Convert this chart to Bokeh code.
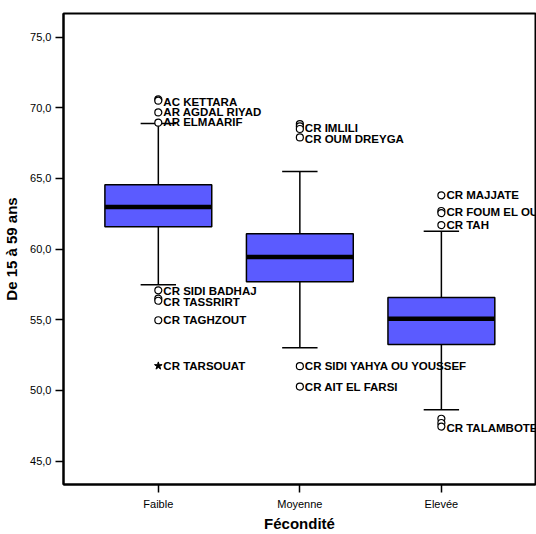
from bokeh.plotting import figure
from bokeh.models import FixedTicker, Range1d, ColumnDataSource
from bokeh.core.properties import value
from bokeh.embed import file_html
from bokeh.resources import INLINE

# Categories and box statistics
categories = ["Faible", "Moyenne", "Elevée"]
cat_pos = [1, 2, 3]
q1 = [61.58, 57.70, 53.26]
median = [62.98, 59.44, 55.07]
q3 = [64.56, 61.09, 56.58]
whisker_low = [57.48, 53.02, 48.63]
whisker_high = [68.88, 65.49, 61.26]

# Outliers (circles)
out_cat = [1, 1, 1, 1, 1, 1, 1, 1,
           2, 2, 2, 2, 2, 2,
           3, 3, 3, 3, 3, 3, 3]
out_val = [70.60, 70.50, 69.67, 68.95, 57.09, 56.50, 56.35, 54.97,
           68.85, 68.68, 68.50, 67.90, 51.72, 50.28,
           63.81, 62.70, 62.55, 61.70, 48.00, 47.70, 47.45]

# Extreme values (stars)
ext_cat = [1]
ext_val = [51.74]

# Labels
lab_cat = [1, 1, 1, 1, 1, 1, 1,
           2, 2, 2, 2,
           3, 3, 3, 3]
lab_val = [70.42, 69.67, 69.00, 57.05, 56.26, 54.97, 51.74,
           68.60, 67.80, 51.72, 50.28,
           63.81, 62.60, 61.70, 47.35]
lab_text = ["AC KETTARA", "AR AGDAL RIYAD", "AR ELMAARIF", "CR SIDI BADHAJ",
            "CR TASSRIRT", "CR TAGHZOUT", "CR TARSOUAT",
            "CR IMLILI", "CR OUM DREYGA", "CR SIDI YAHYA OU YOUSSEF", "CR AIT EL FARSI",
            "CR MAJJATE", "CR FOUM EL OUIDANE", "CR TAH", "CR TALAMBOTE"]

y_ticks = [45, 50, 55, 60, 65, 70, 75]
y_tick_labels = ["45,0", "50,0", "55,0", "60,0", "65,0", "70,0", "75,0"]

BOX_W = 0.755
CAP_W = 0.25
FONT = "Liberation Sans"

p = figure(width=536, height=534, output_backend="svg", toolbar_location=None,
           x_range=Range1d(0.33, 3.665), y_range=Range1d(43.35, 76.67),
           min_border_left=63, min_border_top=13, min_border_right=1, min_border_bottom=45)
p.xgrid.visible = False
p.ygrid.visible = False
p.outline_line_color = "black"
p.outline_line_width = 2
p.background_fill_color = "white"
p.border_fill_color = "white"

box_src = ColumnDataSource(dict(
    x=cat_pos, q1=q1, q3=q3, med=median, lo=whisker_low, hi=whisker_high,
    xl=[c - BOX_W / 2 for c in cat_pos], xr=[c + BOX_W / 2 for c in cat_pos],
    cl=[c - CAP_W / 2 for c in cat_pos], cr=[c + CAP_W / 2 for c in cat_pos],
))

# whiskers
p.segment(x0="x", y0="q3", x1="x", y1="hi", source=box_src, line_color="black", line_width=1.5)
p.segment(x0="x", y0="q1", x1="x", y1="lo", source=box_src, line_color="black", line_width=1.5)
p.segment(x0="cl", y0="hi", x1="cr", y1="hi", source=box_src, line_color="black", line_width=1.5)
p.segment(x0="cl", y0="lo", x1="cr", y1="lo", source=box_src, line_color="black", line_width=1.5)
# boxes
p.quad(left="xl", right="xr", bottom="q1", top="q3", source=box_src,
       fill_color="#5b5bff", line_color="black", line_width=1.5)
# medians
p.segment(x0="xl", y0="med", x1="xr", y1="med", source=box_src, line_color="black", line_width=4.5)

# outliers
p.scatter(out_cat, out_val, marker="circle", size=7, fill_color="white",
          line_color="black", line_width=1.2)
p.scatter(ext_cat, ext_val, marker="star", size=8, fill_color="black", line_color="black")

# labels
p.text(lab_cat, lab_val, text=lab_text, x_offset=5, text_baseline="middle", text_align="left",
       text_font=value(FONT), text_font_size="11.5px", text_font_style="bold", text_color="black")

# axes
p.yaxis.ticker = FixedTicker(ticks=y_ticks)
p.yaxis.major_label_overrides = {t: l for t, l in zip(y_ticks, y_tick_labels)}
p.xaxis.ticker = FixedTicker(ticks=cat_pos)
p.xaxis.major_label_overrides = {t: l for t, l in zip(cat_pos, categories)}
for ax in (p.xaxis, p.yaxis):
    ax.minor_tick_line_color = None
    ax.major_tick_in = 0
    ax.major_tick_out = 8
    ax.major_tick_line_width = 1.5
    ax.axis_line_width = 2
    ax.major_label_text_font = FONT
    ax.major_label_text_font_size = "11px"
    ax.major_label_text_color = "black"
    ax.axis_label_text_font = FONT
    ax.axis_label_text_font_size = "15px"
    ax.axis_label_text_font_style = "bold"
    ax.axis_label_text_color = "black"
p.xaxis.major_label_standoff = 5
p.xaxis.axis_label_standoff = 2
p.yaxis.major_label_standoff = 4
p.yaxis.axis_label_standoff = 7
p.xaxis.axis_label = "Fécondité"
p.yaxis.axis_label = "De 15 à 59 ans"

open("out.html", "w").write(file_html(p, INLINE))
